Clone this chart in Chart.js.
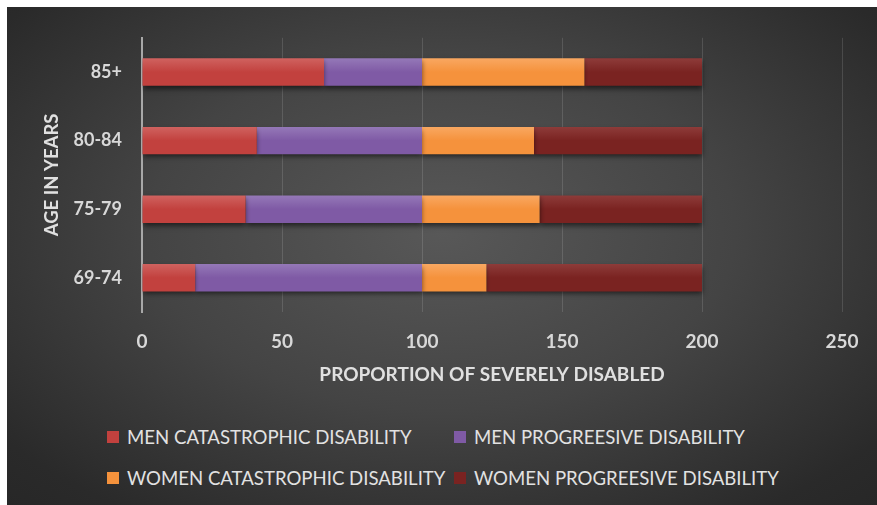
<!DOCTYPE html>
<html>
<head>
<meta charset="utf-8">
<script src="https://cdn.jsdelivr.net/npm/chart.js@4"></script>
<style>
  html, body { margin: 0; padding: 0; background: #fff; overflow: hidden; }
  #wrap {
    position: absolute; left: 7px; top: 7px; width: 870px; height: 498px;
    background: radial-gradient(ellipse 75% 80% at 50% 45%, #585858 0%, #444 45%, #2a2a2a 85%, #262626 100%);
    overflow: hidden;
  }
  #chart { position: absolute; left: 0; top: 0; }
  .item {
    position: absolute; display: flex; align-items: center; height: 22px;
    font: 18.6px Lato, sans-serif; color: #e2e2e2; white-space: nowrap;
  }
  .item i { display: inline-block; width: 12px; height: 12px; margin-right: 8px; }
</style>
</head>
<body>
<div id="wrap">
  <canvas id="chart" width="870" height="400"></canvas>
  <div id="legend"></div>
</div>
<script>
const ageGroups = ['85+', '80-84', '75-79', '69-74'];
const menCatastrophic = [65, 41, 37, 19];
const menProgressive = [35, 59, 63, 81];
const womenCatastrophic = [58, 40, 42, 23];
const womenProgressive = [42, 60, 58, 77];
const xTicks = [0, 50, 100, 150, 200, 250];

const seriesNames = [
  'MEN CATASTROPHIC DISABILITY',
  'MEN PROGREESIVE DISABILITY',
  'WOMEN CATASTROPHIC DISABILITY',
  'WOMEN PROGREESIVE DISABILITY'
];
const seriesColors = ['#c2413e', '#7f5aa5', '#f5923c', '#7a2321'];
const seriesLight = ['#d06360', '#9579b8', '#f9a862', '#8e3c3a'];

// soft top highlight on each bar
function barFill(i) {
  return ctx => {
    const chart = ctx.chart;
    const y = chart.scales.y;
    if (!chart.chartArea || !y || ctx.dataIndex === undefined) return seriesColors[i];
    const c = y.getPixelForValue(ctx.dataIndex);
    const g = chart.ctx.createLinearGradient(0, c - 14, 0, c + 14);
    g.addColorStop(0, seriesLight[i]);
    g.addColorStop(0.5, seriesColors[i]);
    g.addColorStop(1, seriesColors[i]);
    return g;
  };
}

const barShadow = {
  id: 'barShadow',
  beforeDatasetsDraw(chart) {
    const c = chart.ctx;
    c.save();
    c.shadowColor = 'rgba(0,0,0,0.55)';
    c.shadowBlur = 5;
    c.shadowOffsetY = 3;
  },
  afterDatasetsDraw(chart) {
    chart.ctx.restore();
  }
};

const values = [menCatastrophic, menProgressive, womenCatastrophic, womenProgressive];

const chart = new Chart(document.getElementById('chart'), {
  type: 'bar',
  data: {
    labels: ageGroups,
    datasets: values.map((v, i) => ({
      label: seriesNames[i],
      data: v,
      backgroundColor: barFill(i),
      borderWidth: 0,
      categoryPercentage: 1,
      barPercentage: 0.4
    }))
  },
  options: {
    indexAxis: 'y',
    responsive: false,
    animation: false,
    layout: { padding: { top: 26, right: 35, bottom: 15, left: 0 } },
    plugins: {
      legend: { display: false },
      tooltip: { enabled: false }
    },
    scales: {
      x: {
        stacked: true,
        min: xTicks[0],
        max: xTicks[xTicks.length - 1],
        ticks: {
          stepSize: xTicks[1] - xTicks[0],
          padding: 18,
          color: '#d8d8d8',
          font: { family: 'Lato', size: 19, weight: 'bold' }
        },
        grid: { color: 'rgba(255,255,255,0.13)', drawTicks: false },
        border: { display: false },
        title: {
          display: true,
          text: 'PROPORTION OF SEVERELY DISABLED',
          color: '#e0e0e0',
          font: { family: 'Lato', size: 19, weight: 'bold' },
          padding: { top: 0, bottom: 6 }
        },
        afterFit: s => { s.height = 80; }
      },
      y: {
        stacked: true,
        ticks: {
          padding: 20,
          color: '#d8d8d8',
          font: { family: 'Lato', size: 18, weight: 'bold' }
        },
        grid: { drawOnChartArea: false, drawTicks: false },
        border: { display: true, color: '#a8a8a8', width: 2 },
        title: {
          display: true,
          text: 'AGE IN YEARS',
          color: '#e0e0e0',
          font: { family: 'Lato', size: 18.5, weight: 'bold' },
          padding: { top: 34, bottom: 0 }
        },
        afterFit: s => { s.width = 135; }
      }
    }
  },
  plugins: [barShadow]
});

// two-column legend under the plot
const legendCols = [100, 447];
const legendRows = [419, 460];
const legend = document.getElementById('legend');
chart.data.datasets.forEach((ds, i) => {
  const el = document.createElement('div');
  el.className = 'item';
  el.style.left = legendCols[i % 2] + 'px';
  el.style.top = legendRows[Math.floor(i / 2)] + 'px';
  el.innerHTML = '<i style="background:' + seriesColors[i] + '"></i>' + ds.label;
  legend.appendChild(el);
});
</script>
</body>
</html>
